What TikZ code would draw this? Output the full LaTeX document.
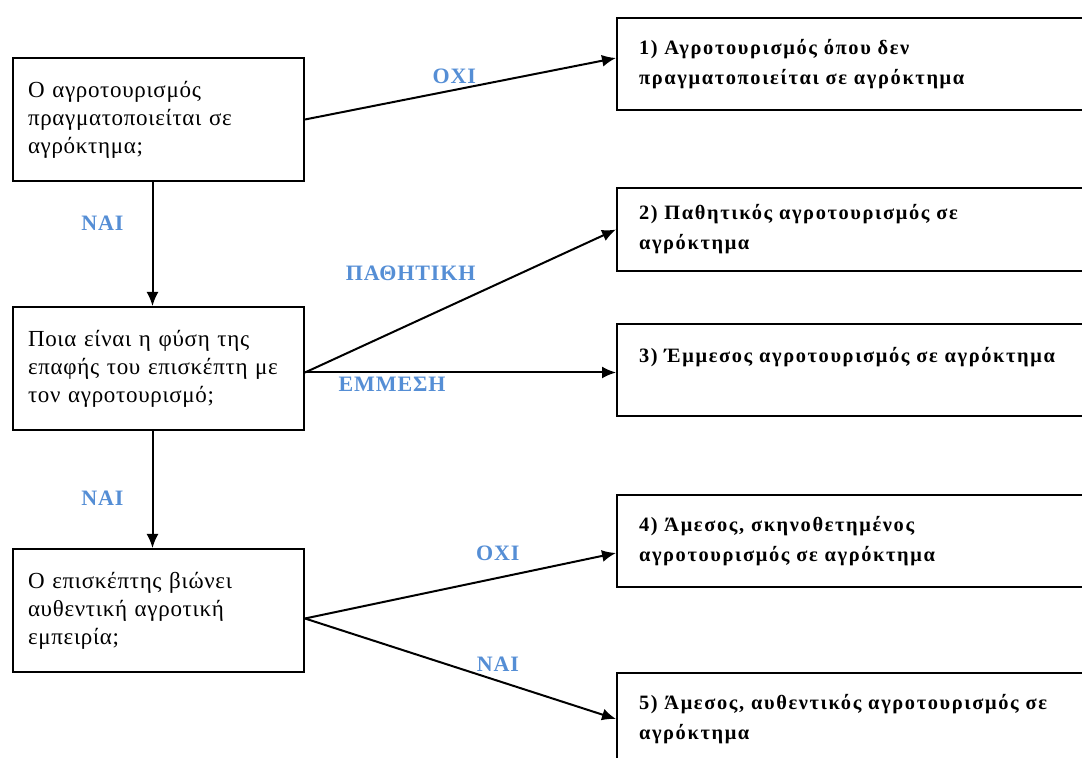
\documentclass[tikz,border=0pt]{standalone}
\usepackage{fontspec}
\setmainfont{Liberation Serif}
\newfontfamily\boxfont{Liberation Serif}[LetterSpace=3]
\newfontfamily\spacedfont{Liberation Serif}[LetterSpace=8]
\newfontfamily\labelfont{Liberation Serif}[LetterSpace=4]
\usetikzlibrary{arrows.meta}
\definecolor{lblblue}{RGB}{85,142,213}

\begin{document}
\begin{tikzpicture}[x=0.5pt, y=-0.5pt,
  qbox/.style={draw, line width=1pt, anchor=north west, align=left, text width=130.5pt, inner xsep=7.5pt, inner ysep=0pt, minimum height=61.5pt, font=\boxfont\fontsize{11.5}{14}\selectfont},
  rbox/.style={draw, line width=1pt, anchor=north west, align=left, text width=218pt, inner xsep=11pt, inner ysep=0pt, minimum height=46pt, font=\spacedfont\bfseries\fontsize{10.2}{15}\selectfont},
  lbl/.style={text=lblblue, inner sep=1pt, font=\labelfont\bfseries\fontsize{11}{12}\selectfont},
  arr/.style={-{Latex[length=7pt,width=6pt]}, line width=1pt}]
\useasboundingbox (0,0) rectangle (1082,758);
\clip (0,0) rectangle (1082,758);
%Questions
\node[qbox] (b1) at (12,57) {Ο αγροτουρισμός\\πραγματοποιείται σε\\αγρόκτημα;};
\node[qbox] (b2) at (12,306) {Ποια είναι η φύση της\\επαφής του επισκέπτη με\\τον αγροτουρισμό;};
\node[qbox] (b3) at (12,548) {Ο επισκέπτης βιώνει\\αυθεντική αγροτική\\εμπειρία;};
%Outcomes
\node[rbox] (r1) at (616,17) {1) Αγροτουρισμός όπου δεν\\πραγματοποιείται σε αγρόκτημα};
\node[rbox, minimum height=41.5pt] (r2) at (616,187) {2) Παθητικός αγροτουρισμός σε\\αγρόκτημα};
\node[rbox] (r3) at (616,323) {3) Έμμεσος αγροτουρισμός σε αγρόκτημα\\\mbox{}};
\node[rbox] (r4) at (616,494) {4) Άμεσος, σκηνοθετημένος\\αγροτουρισμός σε αγρόκτημα};
\node[rbox] (r5) at (616,672) {5) Άμεσος, αυθεντικός αγροτουρισμός σε\\αγρόκτημα};
\coordinate (m2) at ([yshift=-2pt]b2.east);
\coordinate (m3) at ([yshift=-4pt]b3.east);
%Arrows
\draw[arr] (b1.east) -- node[lbl, pos=0.48, above=1.5pt] {ΟΧΙ} ([yshift=3pt]r1.west);
\draw[arr] ([xshift=-3pt]b1.south) -- node[lbl, pos=0.33, left=13pt] {ΝΑΙ} ([xshift=-3pt]b2.north);
\draw[arr] (m2) -- node[lbl, pos=0.34, above=20pt] {ΠΑΘΗΤΙΚΗ} (r2.west);
\draw[arr] (m2) -- node[lbl, pos=0.28, below=1pt] {ΕΜΜΕΣΗ} (m2 -| r3.west);
\draw[arr] ([xshift=-3pt]b2.south) -- node[lbl, pos=0.575, left=13pt] {ΝΑΙ} ([xshift=-3pt]b3.north);
\draw[arr] (m3) -- node[lbl, pos=0.62, above=7pt] {ΟΧΙ} ([yshift=-6pt]r4.west);
\draw[arr] (m3) -- node[lbl, pos=0.62, above=3pt] {ΝΑΙ} (r5.west);
\end{tikzpicture}
\end{document}
